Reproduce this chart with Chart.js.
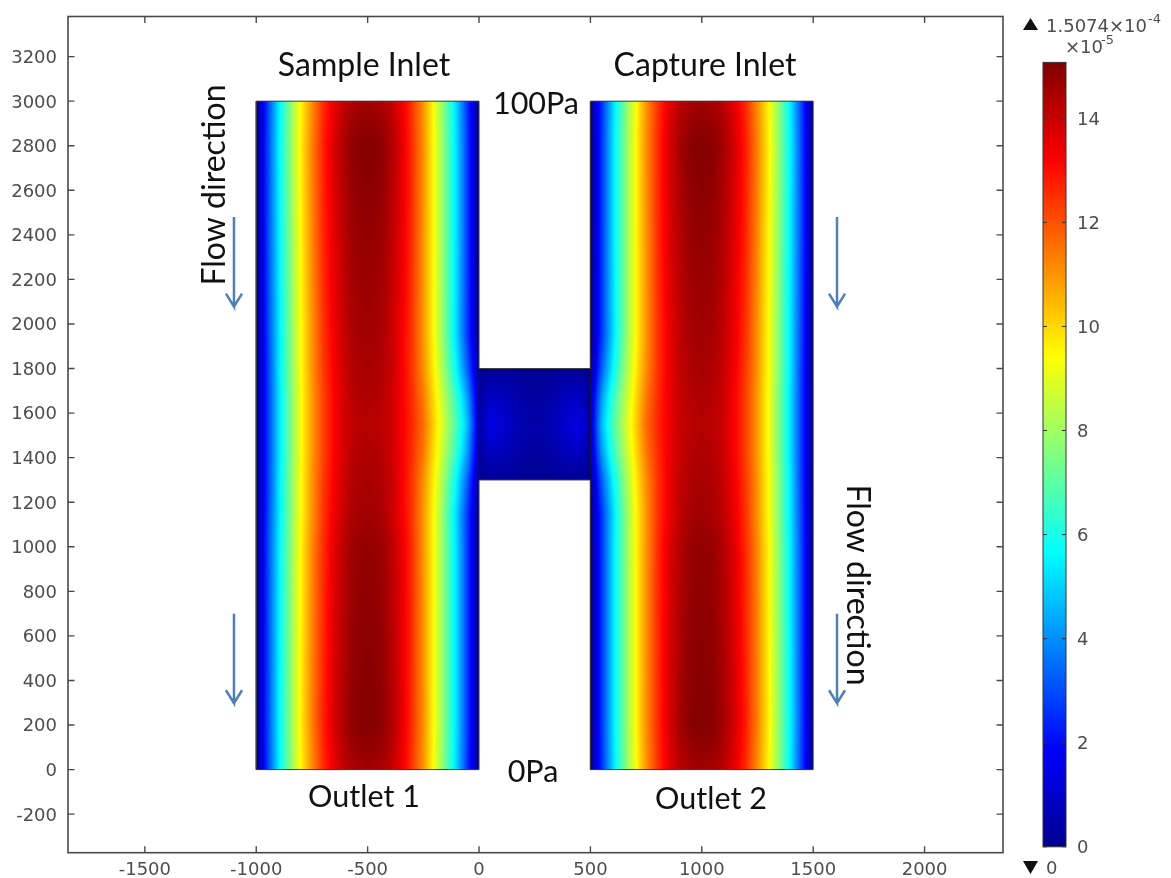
<!DOCTYPE html>
<html><head><meta charset="utf-8">
<style>html,body{margin:0;padding:0;background:#fff}#wrap{position:relative;width:1171px;height:878px;overflow:hidden}canvas{position:absolute;top:0}#main{left:0}#bar{left:1005px}</style>
<script src="https://cdn.jsdelivr.net/npm/chart.js@4/dist/chart.umd.min.js"></script>
</head><body><div id="wrap"><canvas id="main" width="1171" height="878"></canvas><canvas id="bar" width="166" height="878"></canvas></div>
<script>
const xTickValues=[-1500,-1000,-500,0,500,1000,1500,2000];
const yTickValues=[-200,0,200,400,600,800,1000,1200,1400,1600,1800,2000,2200,2400,2600,2800,3000,3200];
const colorTickValues=[0,2,4,6,8,10,12,14];
const colorMax=15.074;
const rowY=[0,200,1000,1150,1300,1425,1550,1675,1800,1950,2400,2800,3000];
const leftX=[-1000,-950,-900,-850,-800,-750,-700,-650,-600,-550,-500,-450,-400,-350,-300,-250,-200,-150,-100,-50,0];
const rightX=[500,550,600,650,700,750,800,850,900,950,1000,1050,1100,1150,1200,1250,1300,1350,1400,1450,1500];
const leftRows=[
[0,2.7,5.3,7.5,9.5,11.1,12.5,13.5,14.2,14.5,14.6,14.5,14.2,13.5,12.4,11,9.2,7.2,5,2.5,0],
[0,2.8,5.4,7.6,9.6,11.3,12.7,13.8,14.5,14.95,15.05,14.95,14.5,13.7,12.5,11.1,9.3,7.3,5.1,2.6,0],
[0,2.8,5.3,7.5,9.5,11.2,12.5,13.6,14.3,14.7,14.8,14.7,14.3,13.6,12.5,11,9.3,7.3,5.1,2.6,0],
[0,2.7,5.2,7.4,9.4,11,12.4,13.4,14.1,14.5,14.6,14.5,14.1,13.4,12.4,11,9.3,7.3,5,2.6,0.1],
[0,2.6,5.2,7.4,9.4,11,12.3,13.3,14,14.4,14.5,14.4,14.1,13.4,12.4,11.1,9.5,7.6,5.5,3.2,0.35],
[0,2.6,5.1,7.3,9.3,10.9,12.2,13.2,13.9,14.3,14.4,14.3,14,13.4,12.5,11.4,9.8,8.1,6.3,4.1,0.8],
[0,2.6,5.1,7.3,9.3,10.9,12.2,13.2,13.9,14.2,14.3,14.2,14,13.4,12.6,11.6,10,8.4,6.7,4.6,1],
[0,2.6,5.1,7.3,9.3,10.9,12.2,13.2,13.9,14.3,14.4,14.3,14,13.4,12.5,11.4,9.8,8.1,6.3,4.1,0.8],
[0,2.6,5.2,7.4,9.4,11,12.3,13.3,14,14.4,14.5,14.4,14.1,13.4,12.4,11.1,9.5,7.6,5.5,3.2,0.35],
[0,2.7,5.2,7.4,9.4,11,12.4,13.4,14.1,14.5,14.6,14.5,14.1,13.4,12.4,11,9.3,7.3,5,2.6,0.1],
[0,2.8,5.3,7.5,9.5,11.2,12.6,13.6,14.3,14.7,14.8,14.7,14.3,13.6,12.5,11,9.3,7.3,5.1,2.6,0],
[0,2.8,5.4,7.6,9.6,11.3,12.7,13.8,14.5,14.95,15.05,14.95,14.5,13.7,12.5,11.1,9.3,7.3,5.1,2.6,0],
[0,2.7,5.3,7.5,9.5,11.1,12.5,13.5,14.2,14.5,14.6,14.5,14.2,13.5,12.4,11,9.2,7.2,5,2.5,0]
];
const rightRows=[
[0,2.5,5,7.2,9.2,11,12.4,13.5,14.2,14.5,14.6,14.5,14.2,13.5,12.5,11.1,9.5,7.5,5.3,2.7,0],
[0,2.6,5.1,7.3,9.3,11.1,12.5,13.7,14.5,14.95,15.05,14.95,14.5,13.8,12.7,11.3,9.6,7.6,5.4,2.8,0],
[0,2.6,5.1,7.3,9.3,11,12.5,13.6,14.3,14.7,14.8,14.7,14.3,13.6,12.5,11.2,9.5,7.5,5.3,2.8,0],
[0.1,2.6,5,7.3,9.3,11,12.4,13.4,14.1,14.5,14.6,14.5,14.1,13.4,12.4,11,9.4,7.4,5.2,2.7,0],
[0.35,3.2,5.5,7.6,9.5,11.1,12.4,13.4,14.1,14.4,14.5,14.4,14,13.3,12.3,11,9.4,7.4,5.2,2.6,0],
[0.8,4.1,6.3,8.1,9.8,11.4,12.5,13.4,14,14.3,14.4,14.3,13.9,13.2,12.2,10.9,9.3,7.3,5.1,2.6,0],
[1,4.6,6.7,8.4,10,11.6,12.6,13.4,14,14.2,14.3,14.2,13.9,13.2,12.2,10.9,9.3,7.3,5.1,2.6,0],
[0.8,4.1,6.3,8.1,9.8,11.4,12.5,13.4,14,14.3,14.4,14.3,13.9,13.2,12.2,10.9,9.3,7.3,5.1,2.6,0],
[0.35,3.2,5.5,7.6,9.5,11.1,12.4,13.4,14.1,14.4,14.5,14.4,14,13.3,12.3,11,9.4,7.4,5.2,2.6,0],
[0.1,2.6,5,7.3,9.3,11,12.4,13.4,14.1,14.5,14.6,14.5,14.1,13.4,12.4,11,9.4,7.4,5.2,2.7,0],
[0,2.6,5.1,7.3,9.3,11,12.5,13.6,14.3,14.7,14.8,14.7,14.3,13.6,12.6,11.2,9.5,7.5,5.3,2.8,0],
[0,2.6,5.1,7.3,9.3,11.1,12.5,13.7,14.5,14.95,15.05,14.95,14.5,13.8,12.7,11.3,9.6,7.6,5.4,2.8,0],
[0,2.5,5,7.2,9.2,11,12.4,13.5,14.2,14.5,14.6,14.5,14.2,13.5,12.5,11.1,9.5,7.5,5.3,2.7,0]
];
const bridgeX=[0,50,100,150,200,250,300,350,400,450,500];
const bridgeY=[1300,1350,1450,1550,1650,1750,1800];
const bridgeRows=[
[0.05,0.12,0.12,0.1,0.08,0.08,0.08,0.1,0.12,0.12,0.05],
[0.15,0.4,0.4,0.3,0.2,0.18,0.2,0.3,0.4,0.4,0.15],
[0.3,1,0.9,0.6,0.4,0.3,0.4,0.6,0.9,1,0.3],
[0.4,1.45,1.15,0.75,0.5,0.4,0.5,0.75,1.15,1.45,0.4],
[0.3,1,0.9,0.6,0.4,0.3,0.4,0.6,0.9,1,0.3],
[0.15,0.4,0.4,0.3,0.2,0.18,0.2,0.3,0.4,0.4,0.15],
[0.05,0.12,0.12,0.1,0.08,0.08,0.08,0.1,0.12,0.12,0.05]
];
const outlineX=[-1000,0,0,500,500,1500,1500,500,500,0,0,-1000,-1000];
const outlineY=[0,0,1300,1300,0,0,3000,3000,1800,1800,3000,3000,0];
const junctionX=[0,0,null,500,500];
const junctionY=[1300,1800,null,1800,1300];
const arrowShaftX=[-1100,-1100,1607,1607];
const arrowTopY=[2480,700,2480,700];
const arrowTipY=[2078,298,2078,298];
const labelTexts=["Sample Inlet","Capture Inlet","100Pa","0Pa","Outlet 1","Outlet 2"];
const sideText="Flow direction";

const inkAxis="#4a4a4a";
const jetStops=[[0,[0,0,143]],[1/8,[0,0,255]],[3/8,[0,255,255]],[5/8,[255,255,0]],[7/8,[255,0,0]],[1,[128,0,0]]];
function jet(v){
  const t=Math.max(0,Math.min(1,v/colorMax));
  for(let i=1;i<jetStops.length;i++){
    if(t<=jetStops[i][0]){
      const a=jetStops[i-1],b=jetStops[i],f=(t-a[0])/(b[0]-a[0]);
      return [0,1,2].map(k=>a[1][k]+(b[1][k]-a[1][k])*f);
    }
  }
  return jetStops[5][1];
}
function locate(arr,v){
  let i=0;
  while(i<arr.length-2&&v>arr[i+1])i++;
  const f=(v-arr[i])/(arr[i+1]-arr[i]);
  return [i,Math.max(0,Math.min(1,f))];
}
const heatBlocks=[{xs:leftX,ys:rowY,rows:leftRows},{xs:rightX,ys:rowY,rows:rightRows},{xs:bridgeX,ys:bridgeY,rows:bridgeRows}];
const heatPlugin={id:"heat",beforeDatasetsDraw(c){
  const sx=c.scales.x,sy=c.scales.y,ctx=c.ctx;
  heatBlocks.forEach(b=>{
    const x0=Math.round(sx.getPixelForValue(b.xs[0])),x1=Math.round(sx.getPixelForValue(b.xs[b.xs.length-1]));
    const y0=Math.round(sy.getPixelForValue(b.ys[b.ys.length-1])),y1=Math.round(sy.getPixelForValue(b.ys[0]));
    const w=x1-x0,h=y1-y0,img=ctx.createImageData(w,h);
    for(let py=0;py<h;py++){
      const [j,fy]=locate(b.ys,sy.getValueForPixel(y0+py+0.5));
      for(let px=0;px<w;px++){
        const [i,fx]=locate(b.xs,sx.getValueForPixel(x0+px+0.5));
        const r0=b.rows[j],r1=b.rows[j+1];
        const v=(r0[i]*(1-fx)+r0[i+1]*fx)*(1-fy)+(r1[i]*(1-fx)+r1[i+1]*fx)*fy;
        const col=jet(v),o=(py*w+px)*4;
        img.data[o]=col[0];img.data[o+1]=col[1];img.data[o+2]=col[2];img.data[o+3]=255;
      }
    }
    const off=document.createElement("canvas");off.width=w;off.height=h;
    off.getContext("2d").putImageData(img,0,0);
    ctx.drawImage(off,x0,y0);
  });
}};
// DejaVu digits sit high on a "middle" baseline: nudge the library's own tick labels down
const labelNudge={id:"labelNudge",beforeDraw(c){
  Object.values(c.scales).forEach(s=>{
    if(!s.options.display)return;
    const dy=s.axis==="x"?1:1.7;
    s.getLabelItems(c.chartArea).forEach(it=>{
      if(!it._nudged){it.options.translation=[it.options.translation[0],it.options.translation[1]+dy];it._nudged=true;}
    });
  });
}};
const framePlugin={id:"frame",afterDraw(c){
  const ctx=c.ctx,a=c.chartArea,sx=c.scales.x,sy=c.scales.y;
  ctx.save();
  ctx.strokeStyle=inkAxis;ctx.lineWidth=1.6;
  ctx.strokeRect(a.left,a.top,a.right-a.left,a.bottom-a.top);
  ctx.lineWidth=1.4;ctx.beginPath();
  xTickValues.forEach(v=>{const p=sx.getPixelForValue(v);ctx.moveTo(p,a.bottom);ctx.lineTo(p,a.bottom-6.5);ctx.moveTo(p,a.top);ctx.lineTo(p,a.top+6.5);});
  yTickValues.forEach(v=>{const p=sy.getPixelForValue(v);ctx.moveTo(a.left,p);ctx.lineTo(a.left+6.5,p);ctx.moveTo(a.right,p);ctx.lineTo(a.right-6.5,p);});
  ctx.stroke();
  ctx.fillStyle="#111";ctx.textAlign="center";ctx.textBaseline="middle";
  const places=[[364,65.5,32],[705,65.5,32],[536,104,30.5],[533,772,30.5],[364,797,30.5],[711,799,30.5]];
  labelTexts.forEach((t,i)=>{ctx.font=places[i][2]+'px Lato';ctx.fillText(t,places[i][0],places[i][1]);});
  ctx.font='32px Lato';
  ctx.save();ctx.translate(215,185);ctx.rotate(-Math.PI/2);ctx.fillText(sideText,0,0);ctx.restore();
  ctx.save();ctx.translate(857,585);ctx.rotate(Math.PI/2);ctx.fillText(sideText,0,0);ctx.restore();
  ctx.restore();
}};
function zipXY(xs,ys){return xs.map((x,i)=>({x:x===null?NaN:x,y:ys[i]===null?NaN:ys[i]}));}
function arrowData(i){
  const x=arrowShaftX[i],t=arrowTopY[i],b=arrowTipY[i];
  return [{x,y:t},{x,y:b},{x:x-36,y:b+58},{x,y:b},{x:x+36,y:b+58}];
}
const lineBase={showLine:true,pointRadius:0,fill:false,tension:0};
const noEdgePad=s=>{s.paddingTop=0;s.paddingBottom=0;s.paddingLeft=0;s.paddingRight=0;};
new Chart(document.getElementById("main"),{
  type:"scatter",
  data:{datasets:[
    {...lineBase,label:"Outline",data:zipXY(outlineX,outlineY),borderColor:"#3a3a3a",borderWidth:1},
    {...lineBase,label:"Junction walls",data:zipXY(junctionX,junctionY),borderColor:"rgba(20,20,60,0.75)",borderWidth:1,spanGaps:false},
    ...arrowShaftX.map((_,i)=>({...lineBase,label:"Flow arrow "+(i+1),data:arrowData(i),borderColor:"#4f7fb8",borderWidth:2.5}))
  ]},
  options:{
    responsive:false,animation:false,
    layout:{padding:{top:16.5,right:168,left:0,bottom:0}},
    plugins:{legend:{display:false},tooltip:{enabled:false}},
    scales:{
      x:{type:"linear",min:-1845,max:2352,grid:{display:false,drawTicks:false},border:{display:false},
        afterBuildTicks:s=>{s.ticks=xTickValues.map(value=>({value}));},
        afterFit:s=>{s.height=25.3;noEdgePad(s);},
        ticks:{autoSkip:false,maxRotation:0,padding:6,color:"#4d4d4d",font:{family:"DejaVu Sans",size:18},callback:v=>String(v)}},
      y:{type:"linear",min:-373,max:3380,grid:{display:false,drawTicks:false},border:{display:false},
        afterBuildTicks:s=>{s.ticks=yTickValues.map(value=>({value}));},
        afterFit:s=>{s.width=68;noEdgePad(s);},
        ticks:{autoSkip:false,padding:11,color:"#4d4d4d",font:{family:"DejaVu Sans",size:18},callback:v=>String(v)}}
    }
  },
  plugins:[heatPlugin,labelNudge,framePlugin]
});
function barGradient(ctx){
  const c=ctx.chart,a=c.chartArea;
  if(!a)return "#800000";
  const g=c.ctx.createLinearGradient(0,a.bottom,0,a.top);
  jetStops.forEach(s=>g.addColorStop(s[0],"rgb("+s[1].join(",")+")"));
  return g;
}
const barDecor={id:"barDecor",afterDraw(c){
  const ctx=c.ctx,a=c.chartArea,sy=c.scales.y;
  ctx.save();
  ctx.strokeStyle="#333";ctx.lineWidth=1;ctx.strokeRect(a.left,a.top,a.right-a.left,a.bottom-a.top);
  ctx.beginPath();
  colorTickValues.forEach(v=>{const p=sy.getPixelForValue(v);ctx.moveTo(a.left,p);ctx.lineTo(a.left+4,p);ctx.moveTo(a.right,p);ctx.lineTo(a.right-4,p);});
  ctx.stroke();
  ctx.fillStyle="#111";
  ctx.beginPath();ctx.moveTo(18,30);ctx.lineTo(33,30);ctx.lineTo(25.5,18);ctx.closePath();ctx.fill();
  ctx.beginPath();ctx.moveTo(18,861);ctx.lineTo(33,861);ctx.lineTo(25.5,874);ctx.closePath();ctx.fill();
  ctx.fillStyle="#4d4d4d";ctx.textAlign="left";ctx.textBaseline="alphabetic";
  ctx.font='18px "DejaVu Sans"';
  ctx.fillText("1.5074×10",41,32);
  ctx.fillText("×10",60,53);
  ctx.fillText("0",41,874);
  ctx.font='13px "DejaVu Sans"';
  ctx.fillText("-4",143,23);
  ctx.fillText("-5",96,44);
  ctx.restore();
}};
new Chart(document.getElementById("bar"),{
  type:"bar",
  data:{labels:["velocity"],datasets:[{label:"Colour scale",data:[[0,colorMax]],backgroundColor:barGradient,borderWidth:0,barPercentage:1,categoryPercentage:1}]},
  options:{
    responsive:false,animation:false,
    layout:{padding:{left:38,top:62.4,bottom:31.2,right:0}},
    plugins:{legend:{display:false},tooltip:{enabled:false}},
    scales:{
      x:{display:false},
      y:{position:"right",min:0,max:colorMax,grid:{display:false,drawTicks:false},border:{display:false},
        afterBuildTicks:s=>{s.ticks=colorTickValues.map(value=>({value}));},
        afterFit:s=>{s.width=105;noEdgePad(s);},
        ticks:{autoSkip:false,padding:11,color:"#4d4d4d",font:{family:"DejaVu Sans",size:18}}}
    }
  },
  plugins:[labelNudge,barDecor]
});
</script></body></html>
